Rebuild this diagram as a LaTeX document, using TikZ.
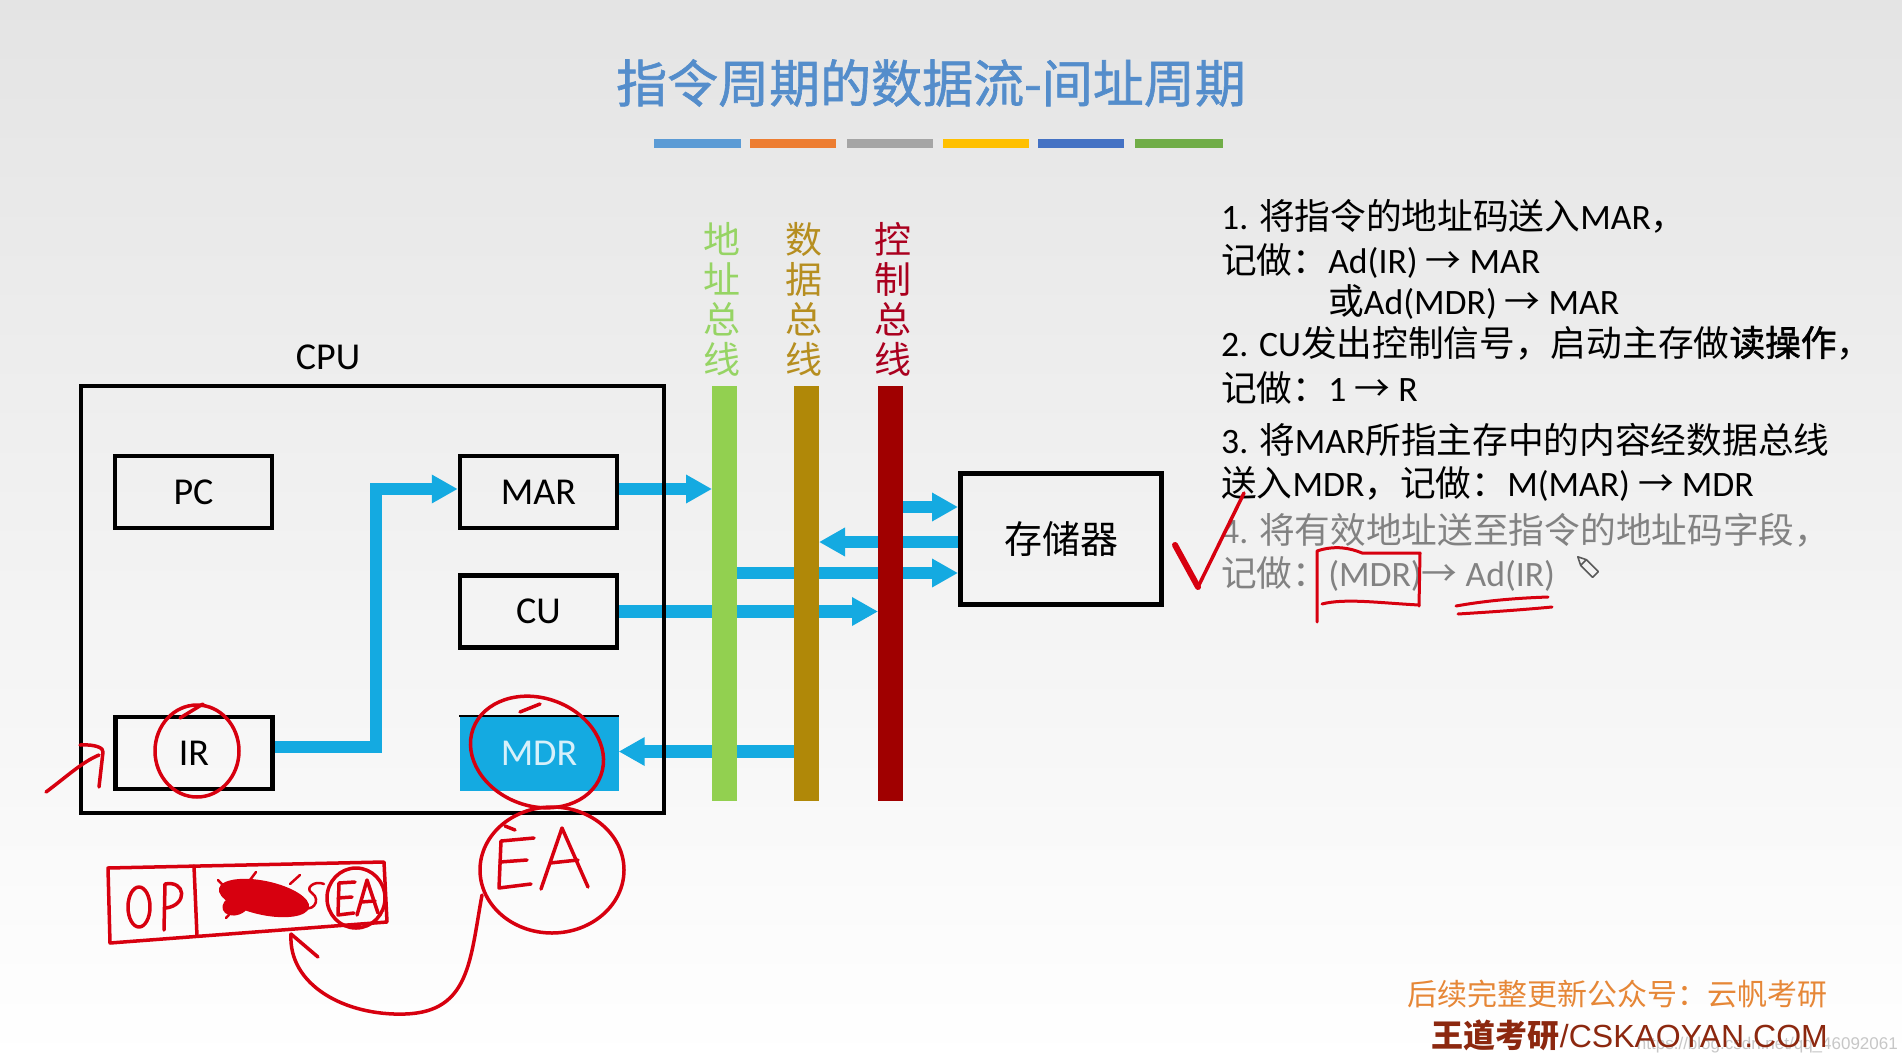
\documentclass[tikz,border=0pt]{standalone}
\usepackage{fontspec}
\setmainfont{Carlito}
\newfontfamily\cjk{Noto Sans CJK SC}
\newfontfamily\cjkfb[FakeBold=1.6]{Noto Sans CJK SC}
\newfontfamily\cjktitle[FakeBold=1.2]{Noto Sans CJK SC}
\newfontfamily\arialf{Liberation Sans}
\usetikzlibrary{arrows.meta}
\definecolor{titlec}{RGB}{84,141,203}
\definecolor{flowc}{RGB}{20,170,225}
\definecolor{abc}{RGB}{146,208,80}
\definecolor{dbc}{RGB}{176,136,8}
\definecolor{cbc}{RGB}{160,0,0}
\definecolor{abl}{RGB}{150,212,100}
\definecolor{dbl}{RGB}{182,142,32}
\definecolor{cbl}{RGB}{170,0,30}
\definecolor{redpen}{RGB}{215,0,15}
\definecolor{orangec}{RGB}{230,135,55}
\definecolor{brownc}{RGB}{140,40,15}
\definecolor{graytxt}{RGB}{130,130,130}
\definecolor{mdrtxt}{RGB}{215,240,250}
\definecolor{barA}{RGB}{91,155,213}
\definecolor{barB}{RGB}{237,125,49}
\definecolor{barC}{RGB}{165,165,165}
\definecolor{barD}{RGB}{255,192,0}
\definecolor{barE}{RGB}{68,114,196}
\definecolor{barF}{RGB}{112,173,71}
\definecolor{bgtop}{RGB}{228,228,228}
\definecolor{bgmid}{RGB}{245,245,245}
\newcommand{\zh}[1]{{\cjk #1}}
\newcommand{\rarr}{{\cjk →}}
\pgfdeclarelayer{back}
\pgfdeclarelayer{arrowlayer}
\pgfsetlayers{back,arrowlayer,main}
\begin{document}
\begin{tikzpicture}[x=1pt,y=-1pt,
  box/.style={draw=black, line width=4.5pt, minimum width=157pt, minimum height=72pt, inner sep=0pt, font=\fontsize{38}{40}\selectfont},
  bus/.style={minimum width=25pt, minimum height=415pt, inner sep=0pt, outer sep=0pt},
  buslabel/.style={font=\cjk\fontsize{37}{40}\selectfont, align=center, inner sep=0pt},
  flow/.style={draw=flowc, line width=12.5pt, -{Triangle[length=26pt,width=27pt]}},
  txt/.style={anchor=base west, inner sep=0pt, font=\fontsize{35.7}{40}\selectfont},
  pen/.style={draw=redpen, line width=3.5pt, line cap=round, line join=round},
]
\useasboundingbox (0,0) rectangle (1902,1062);
\begin{pgfonlayer}{back}
\shade[top color=bgtop, middle color=bgmid, bottom color=white] (0,0) rectangle (1902,1062);
\end{pgfonlayer}

% title and colour bars
\node[font=\cjktitle\fontsize{51}{55}\selectfont, text=titlec, inner sep=0pt] (title) at (931,83) {指令周期的数据流-间址周期};
\fill[barA] (654,139) rectangle (741,148);
\fill[barB] (750,139) rectangle (836,148);
\fill[barC] (847,139) rectangle (933,148);
\fill[barD] (943,139) rectangle (1029,148);
\fill[barE] (1038,139) rectangle (1124,148);
\fill[barF] (1135,139) rectangle (1223,148);

% CPU
\node[font=\fontsize{38}{40}\selectfont, inner sep=0pt] (cpul) at (328,357) {CPU};
\node[draw=black, line width=4pt, minimum width=583pt, minimum height=427pt, inner sep=0pt] (cpu) at (372.5,599.5) {};
\node[box] (pc) at (193.5,492) {PC};
\node[box] (mar) at (538.5,492) {MAR};
\node[box] (cu) at (538.5,611.5) {CU};
\node[box] (ir) at (194,753) {IR};
\node[fill=flowc, minimum width=159pt, minimum height=75pt, inner sep=0pt, text=mdrtxt, font=\fontsize{38}{40}\selectfont] (mdr) at (539,753.5) {MDR};
\draw[line width=2pt] (mdr.north west) -- (mdr.north east);

% buses
\node[bus, fill=abc] (ab) at (724.5,593.5) {};
\node[bus, fill=dbc] (db) at (806.5,593.5) {};
\node[bus, fill=cbc] (cb) at (890.5,593.5) {};
\node[buslabel, text=abl] (abt) at (722,299) {地\\址\\总\\线};
\node[buslabel, text=dbl] (dbt) at (804,299) {数\\据\\总\\线};
\node[buslabel, text=cbl] (cbt) at (893,299) {控\\制\\总\\线};

% memory
\node[draw=black, line width=5pt, minimum width=201pt, minimum height=131pt, inner sep=0pt, font=\cjk\fontsize{38}{40}\selectfont] (mem) at (1061,539) {存储器};

% flows
\coordinate (irout) at ([yshift=6pt]ir.east);
\coordinate (marin) at ([yshift=3pt]mar.west);
\coordinate (marout) at ([yshift=3pt]mar.east);
\coordinate (m1) at ([yshift=32pt]mem.west);
\coordinate (m2) at ([yshift=-3pt]mem.west);
\coordinate (m3) at ([yshift=-34pt]mem.west);
\coordinate (d1) at ([yshift=2pt]mdr.east);
\begin{pgfonlayer}{arrowlayer}
\draw[flow] (irout) -- ++(101,0) |- (marin);
\draw[flow] (marout) -- (marout -| ab.west);
\draw[flow] (cu.east) -- (cu.east -| cb.west);
\draw[flow] (m1 -| cb.center) -- (m1);
\draw[flow] (m2) -- (m2 -| db.east);
\draw[flow] (m3 -| ab.center) -- (m3);
\draw[flow] (d1 -| db.center) -- (d1);
\end{pgfonlayer}

% text block
\node[txt] (t1) at (1221,229) {1. \zh{将指令的地址码送入}MAR\zh{，}};
\node[txt] (t2) at (1221,273) {\zh{记做：}Ad(IR) \rarr{} MAR};
\node[txt] (t3) at (1328,314) {\zh{或}Ad(MDR) \rarr{} MAR};
\node[txt] (t4) at (1221,356) {2. CU\zh{发出控制信号，启动主存做}{\cjkfb 读操作}\zh{，}};
\node[txt] (t5) at (1221,401) {\zh{记做：}1 \rarr{} R};
\node[txt] (t6) at (1221,453) {3. \zh{将}MAR\zh{所指主存中的内容经数据总线}};
\node[txt] (t7) at (1221,496) {\zh{送入}MDR\zh{，记做：}M(MAR) \rarr{} MDR};
\node[txt, text=graytxt] (t8) at (1221,543) {4. \zh{将有效地址送至指令的地址码字段，}};
\node[txt, text=graytxt] (t9) at (1221,586) {\zh{记做：}(MDR)\rarr{} Ad(IR)};

% footer
\node[font=\arialf\fontsize{17}{17}\selectfont, text=black!22, anchor=base east, inner sep=0pt] (wm) at (1898,1049) {https://blog.csdn.net/qq\_46092061};
\node[font=\cjk\fontsize{30}{30}\selectfont, text=orangec, anchor=east, inner sep=0pt] (f1) at (1828,994) {后续完整更新公众号：云帆考研};
\node[font=\fontsize{32}{32}\selectfont, text=brownc, anchor=east, inner sep=0pt] (f2) at (1828,1035) {{\cjk\bfseries 王道考研}{\arialf /CSKAOYAN.COM}};

% pencil icon
\begin{scope}[shift={(1587,566)}, rotate=-45]
\draw[draw=black!65, line width=1.6pt, line join=round] (-5,-4) -- (12,-4) -- (12,4) -- (-5,4) -- cycle;
\draw[draw=black!65, line width=1.6pt, line join=round] (-5,-4) -- (-13,0) -- (-5,4);
\end{scope}

% red handwriting
\draw[pen] (46,792) .. controls (65,778) and (82,762) .. (99,755);
\draw[pen] (80,745) .. controls (95,744) and (104,748) .. (103,752) -- (99,787);
\draw[pen] (197,751) ellipse [x radius=42, y radius=46];
\draw[pen] (180,718) -- (203,704);
\draw[pen] (537,752) ellipse [x radius=68, y radius=54, rotate=-20];
\draw[pen] (520,712) -- (540,704);
\draw[pen] (552,870) ellipse [x radius=72, y radius=63];
\draw[pen] (534,838) -- (501,841) -- (499,888) -- (531,884);
\draw[pen] (500,862) -- (527,860);
\draw[pen] (505,826) -- (515,830);
\draw[pen] (541,889) -- (562,828) -- (588,887);
\draw[pen] (550,863) -- (578,860);
\draw[pen] (482,895) .. controls (470,960) and (470,1012) .. (405,1014) .. controls (345,1016) and (288,985) .. (291,934);
\draw[pen] (291,934) -- (318,957);
\draw[pen] (108,868) -- (384,862) -- (387,922) -- (110,943) -- cycle;
\draw[pen] (194,866) -- (197,936);
\draw[pen] (139,907) ellipse [x radius=11, y radius=20];
\draw[pen] (164,930) -- (165,884) .. controls (186,880) and (188,905) .. (166,908);
\fill[redpen] (264,898) ellipse [x radius=46, y radius=17, rotate=-12];
\fill[redpen] (236,905) ellipse [x radius=14, y radius=10, rotate=20];
\draw[pen, line width=2.5pt] (218,880) -- (240,903);
\draw[pen, line width=2.5pt] (226,918) -- (246,896);
\draw[pen, line width=2.5pt] (250,880) -- (256,872);
\draw[pen, line width=2.5pt] (290,884) -- (300,875);
\draw[pen, line width=2.5pt] (300,905) .. controls (312,915) and (322,900) .. (312,893) .. controls (304,888) and (315,880) .. (324,884);
\draw[pen] (356,898) ellipse [x radius=29, y radius=30];
\draw[pen] (355,882) -- (339,883) -- (338,915) -- (354,913);
\draw[pen] (338,898) -- (352,897);
\draw[pen] (357,915) -- (367,880) -- (378,913);
\draw[pen] (361,902) -- (375,901);
\draw[pen, line width=6pt] (1175,545) -- (1198,587);
\draw[pen] (1198,587) -- (1244,493);
\draw[pen, line width=3pt] (1317,622) -- (1317,551) .. controls (1335,545) and (1350,548) .. (1362,553) -- (1420,553) -- (1419,606);
\draw[pen, line width=3pt] (1322,604) .. controls (1345,598) and (1380,603) .. (1419,605);
\draw[pen, line width=3pt] (1456,606) .. controls (1490,600) and (1520,598) .. (1548,597);
\draw[pen, line width=3pt] (1552,607) .. controls (1520,610) and (1490,612) .. (1458,614);
\end{tikzpicture}
\end{document}
